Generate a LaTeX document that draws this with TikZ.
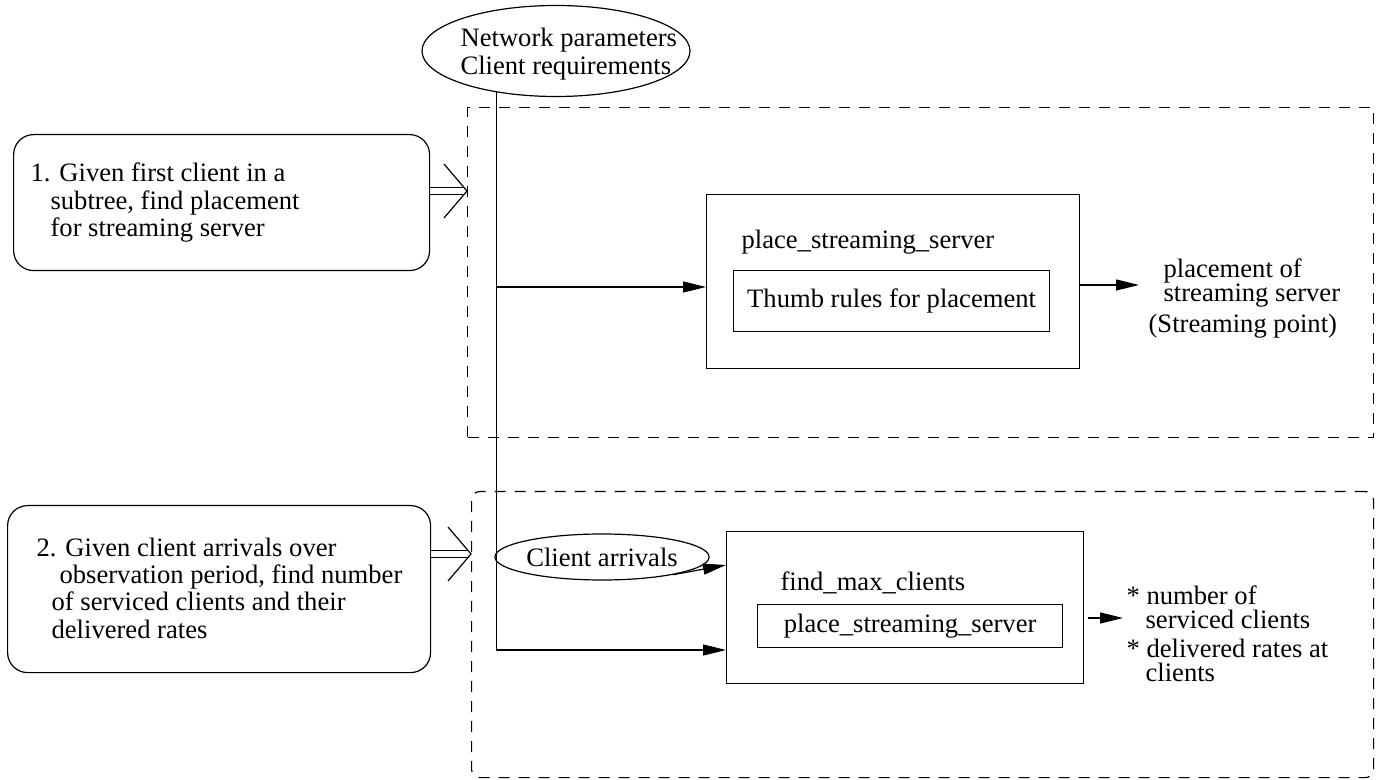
\documentclass[tikz,border=0pt]{standalone}
\usepackage{fontspec}
\setmainfont{Liberation Serif}
\usetikzlibrary{arrows.meta,shapes.geometric,calc}
\begin{document}
\begin{tikzpicture}[x=0.5pt,y=-0.5pt,line width=0.6pt,
  every node/.style={font=\fontsize{13.3}{13.75}\selectfont,inner sep=0pt},
  frame/.style={draw,dash pattern=on 5.5pt off 4.5pt,anchor=north west},
  task/.style={draw,rounded corners=10pt,anchor=north west},
  proc/.style={draw,anchor=north west},
  lbl/.style={anchor=base west},
  oval/.style={draw,ellipse},
  arr/.style={-{Triangle[length=11.5pt,width=5.5pt]}},
  dbl/.style={double,double distance=3pt}]
\useasboundingbox (0,0) rectangle (1387,780);

% dashed frames around the two stages
\node[frame,minimum width=453pt,minimum height=165pt] (f1) at (467,107) {};
\node[frame,rounded corners=4pt,minimum width=451pt,minimum height=143pt] (f2) at (471,491) {};

% inputs
\node[oval,minimum width=134pt,minimum height=45.5pt] (e1) at (556,51) {};
\node[lbl] (e1t) at (460,47) {\begin{tabular}[t]{@{}l@{}}Network parameters\\Client requirements\end{tabular}};
\node[oval,minimum width=98pt,minimum height=23pt] (ca) at (602,557) {Client arrivals};

% stage descriptions
\node[task,minimum width=208pt,minimum height=68pt] (b1) at (13,134) {};
\node[lbl] (b1t) at (30,182) {\begin{tabular}[t]{@{}l@{}}1. Given first client in a\\\hspace{10pt}subtree, find placement\\\hspace{10pt}for streaming server\end{tabular}};
\node[task,minimum width=211.5pt,minimum height=83.5pt] (b2) at (7,505) {};
\node[lbl] (b2t) at (36,556) {\begin{tabular}[t]{@{}l@{}}2. Given client arrivals over\\\hspace{11.5pt}observation period, find number\\\hspace{7.5pt}of serviced clients and their\\\hspace{7.5pt}delivered rates\end{tabular}};

% procedures
\node[proc,minimum width=186.5pt,minimum height=87pt] (ps) at (706,194) {};
\node[lbl] (pst) at (741,249) {place\_streaming\_server};
\node[proc,minimum width=158pt,minimum height=30.5pt] (psi) at (733,270) {Thumb rules for placement};
\node[proc,minimum width=178.5pt,minimum height=76pt] (fm) at (726,531) {};
\node[lbl] (fmt) at (780,590) {find\_max\_clients};
\node[proc,minimum width=152.5pt,minimum height=21.5pt] (fmi) at (757,604) {place\_streaming\_server};

% outputs
\node[lbl] (out1) at (1148,278) {\begin{tabular}[t]{@{}l@{}}\hspace{7.5pt}placement of\\[-1.75pt]\hspace{7.5pt}streaming server\\[1.75pt](Streaming point)\end{tabular}};
\node[lbl] (out2) at (1126,604) {\begin{tabular}[t]{@{}l@{}}* number of\\[-1.75pt]\hspace{9.5pt}serviced clients\\[0.75pt]* delivered rates at\\[-1.75pt]\hspace{9.5pt}clients\end{tabular}};

% connectors
\coordinate (vtop) at (e1.215);
\coordinate (r1) at (0,287);
\coordinate (r2) at (0,650);
\coordinate (r3) at (0,565);
\coordinate (o1) at (1139,285);
\coordinate (o2) at (1123,618);
\draw[arr] (vtop) |- (fm.west |- r2);
\draw[arr] (vtop |- r1) -- (ps.west |- r1);
\draw[arr] (ca.-14) -- (fm.west |- r3);
\draw[arr] (ps.east |- o1) -- (o1);
\draw[arr,shorten <=2pt] (fm.east |- o2) -- (o2);

% double arrows into the stages
\coordinate (h1) at (f1.west |- 0,191);
\coordinate (h2) at (f2.west |- 0,554);
\draw[dbl] (b1.east |- h1) -- ([xshift=-1.6pt]h1);
\draw ([shift={(-23,-27)}]h1) -- (h1) -- ([shift={(-23,27)}]h1);
\draw[dbl] (b2.east |- h2) -- ([xshift=-1.6pt]h2);
\draw ([shift={(-23,-27)}]h2) -- (h2) -- ([shift={(-23,27)}]h2);
\end{tikzpicture}
\end{document}
